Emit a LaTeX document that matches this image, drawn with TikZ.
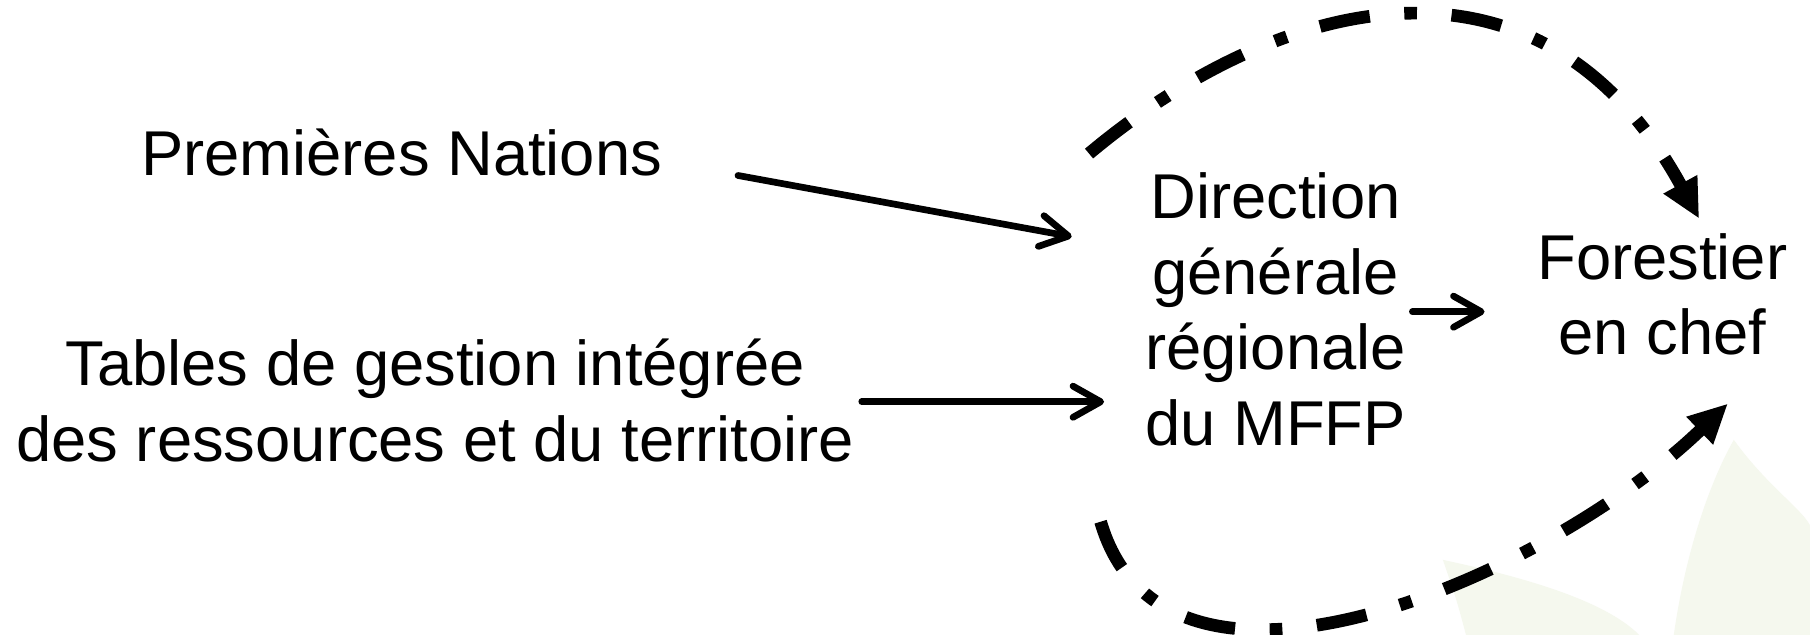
\documentclass[tikz,border=0pt]{standalone}
\usepackage{fontspec}
\setmainfont{Liberation Sans}
\usetikzlibrary{arrows.meta,calc}
\definecolor{leafgreen}{RGB}{245,248,238}
\begin{document}
\begin{tikzpicture}[x=0.01cm,y=-0.01cm,
  lbl/.style={inner sep=0pt, align=center, font=\fontsize{15.6pt}{18.6pt}\selectfont},
  flow/.style={line width=0.058cm, line cap=round, -{Straight Barb[length=0.24cm,width=0.27cm,line cap=round,line join=round]}},
  loopline/.style={line width=0.11cm, dash pattern=on 0.44cm off 0.30cm on 0.11cm off 0.30cm, -{Triangle[length=0.34cm,width=0.31cm]}}]
\useasboundingbox[fill=white] (0,0) rectangle (1568,550);
% faint leaf watermark
\fill[leafgreen] (1502,381) .. controls (1530,420) and (1560,440) .. (1568,455) -- (1568,550) -- (1450,550) .. controls (1460,480) and (1480,420) .. (1502,381);
\fill[leafgreen] (1250,485) .. controls (1320,500) and (1390,520) .. (1420,550) -- (1270,550) .. controls (1262,520) .. (1250,485);
% texts
\node[lbl, anchor=base] (pn) at (348,152) {Premières Nations};
\node[lbl] (tg) at (377,347) {Tables de gestion intégrée\\des ressources et du territoire};
\node[lbl] (dgr) at (1105,268) {Direction\\générale\\régionale\\du MFFP};
\node[lbl] (fc) at (1440,255) {Forestier\\en chef};
% arrows
\draw[flow] ($(pn.base east)+(65,0)$) -- ($(dgr.west)+(-63,-63)$);
\draw[flow] ($(tg.east)+(6,1)$) -- ($(dgr.west)+(-35,80)$);
\draw[flow] ($(dgr.east)+(5,2)$) -- ($(fc.west)+(-45,15)$);
\draw[loopline] ($(dgr.north west)+(-48,-16)$) .. controls +(167,-140) and +(-137,-250) .. ($(fc.north)+(32,-12)$);
\draw[loopline] ($(dgr.south west)+(-38,65)$) .. controls +(56,192) and +(-158,152) .. ($(fc.south east)+(-52,41)$);
\end{tikzpicture}
\end{document}
